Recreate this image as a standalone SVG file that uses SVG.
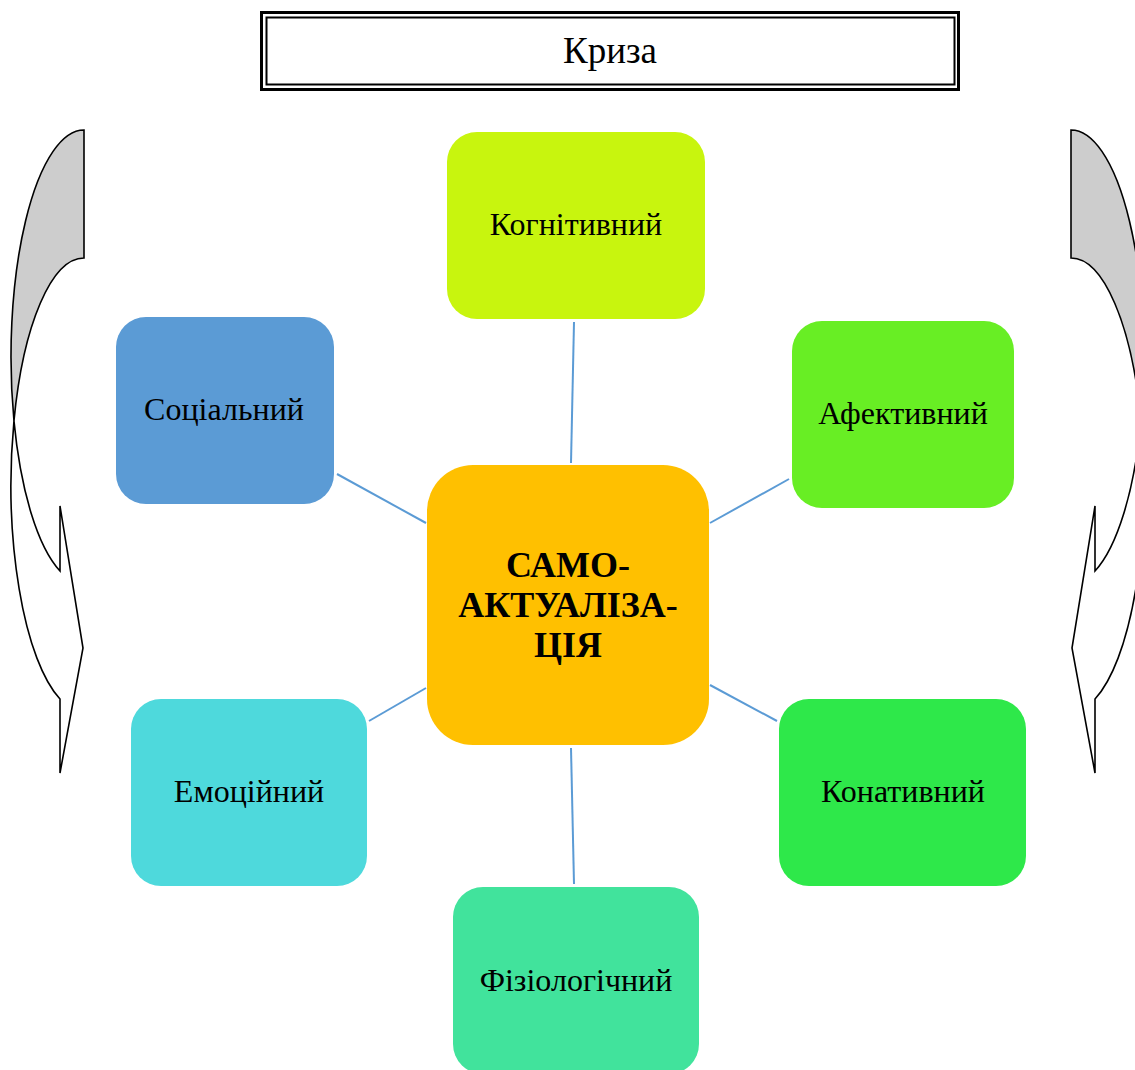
<svg xmlns="http://www.w3.org/2000/svg" width="1135" height="1070" viewBox="0 0 1135 1070">
<style>
.lbl{font-family:"Liberation Serif","Times New Roman",serif;font-size:32px;fill:#000;text-anchor:middle}
.ctr{font-family:"Liberation Serif","Times New Roman",serif;font-size:36px;font-weight:bold;fill:#000;text-anchor:middle}
.conn{stroke:#5B9BD5;stroke-width:2;fill:none}
.arrow{stroke:#000;stroke-width:1.6;stroke-linejoin:miter}
</style>
<defs>
<g id="curved">
<path class="arrow" fill="#CDCDCD" d="M84,130 A73,226.9 0 0 0 13.96,420.9 A73,226.9 0 0 1 84,258 Z"/>
<path class="arrow" fill="#FFFFFF" d="M13.96,420.9 A73,226.9 0 0 0 60,699 L60,773 L83,648 L60,506 L60,571 A73,226.9 0 0 1 13.96,420.9 Z"/>
</g>
</defs>
<rect width="1135" height="1070" fill="#FFFFFF"/>
<g id="left-arrow"><use href="#curved"/></g>
<g id="right-arrow"><use href="#curved" transform="translate(1155,0) scale(-1,1)"/></g>
<g id="kryza">
<rect x="261.5" y="12.5" width="697" height="77" fill="#FFFFFF" stroke="#000" stroke-width="3"/>
<rect x="266.5" y="17.5" width="688" height="67" fill="none" stroke="#000" stroke-width="2"/>
<text x="610" y="63" font-family="Liberation Serif, Times New Roman, serif" font-size="37" text-anchor="middle">Криза</text>
</g>
<g id="connectors">
<line class="conn" x1="571" y1="463" x2="574" y2="322"/>
<line class="conn" x1="710" y1="523" x2="789" y2="479"/>
<line class="conn" x1="710" y1="685" x2="777" y2="721"/>
<line class="conn" x1="571" y1="748" x2="574" y2="884"/>
<line class="conn" x1="426" y1="688" x2="369" y2="721"/>
<line class="conn" x1="426" y1="523" x2="337" y2="474"/>
</g>
<g id="center">
<rect x="427" y="465" width="282" height="280" rx="46" fill="#FFC000"/>
<text class="ctr" x="568" y="577">САМО-</text>
<text class="ctr" x="568" y="617">АКТУАЛІЗА-</text>
<text class="ctr" x="568" y="657">ЦІЯ</text>
</g>
<g id="kognityvnyi">
<rect x="447" y="132" width="258" height="187" rx="30" fill="#C8F50E"/>
<text class="lbl" x="576" y="235">Когнітивний</text>
</g>
<g id="afektyvnyi">
<rect x="792" y="321" width="222" height="187" rx="30" fill="#68EE24"/>
<text class="lbl" x="903" y="424">Афективний</text>
</g>
<g id="konatyvnyi">
<rect x="779" y="699" width="247" height="187" rx="30" fill="#2EE84A"/>
<text class="lbl" x="903" y="802">Конативний</text>
</g>
<g id="fiziolohichnyi">
<rect x="453" y="887" width="246" height="187" rx="30" fill="#41E39C"/>
<text class="lbl" x="576" y="991">Фізіологічний</text>
</g>
<g id="emotsiinyi">
<rect x="131" y="699" width="236" height="187" rx="30" fill="#4ED9DC"/>
<text class="lbl" x="249" y="802">Емоційний</text>
</g>
<g id="sotsialnyi">
<rect x="116" y="317" width="218" height="187" rx="30" fill="#5B9BD5"/>
<text class="lbl" x="224" y="420">Соціальний</text>
</g>
</svg>
